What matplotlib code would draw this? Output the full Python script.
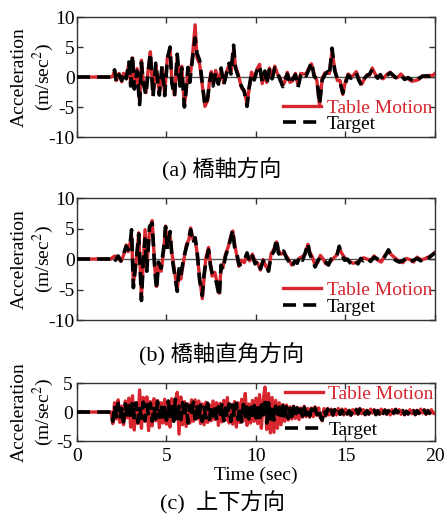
import numpy as np
import matplotlib
matplotlib.use('Agg')
import matplotlib.pyplot as plt

plt.rcParams['font.family'] = ['Liberation Serif', 'Noto Sans CJK JP']
plt.rcParams['mathtext.fontset'] = 'stix'
plt.rcParams['axes.unicode_minus'] = False

RED = '#d7262e'

# (a) bridge-axis direction
t_a = [0.0, 1.9, 2.0, 2.1, 2.2, 2.35, 2.5, 2.6, 2.75, 2.9,
       3.0, 3.1, 3.2, 3.35, 3.5, 3.6, 3.7, 3.85, 4.0, 4.1,
       4.25, 4.4, 4.5, 4.6, 4.75, 4.9, 5.05, 5.2, 5.3, 5.45,
       5.6, 5.75, 5.85, 6.0, 6.1, 6.2, 6.3, 6.45, 6.6, 6.7,
       6.85, 7.0, 7.15, 7.3, 7.4, 7.5, 7.6, 7.75, 7.9, 8.05,
       8.2, 8.35, 8.5, 8.6, 8.75, 8.85, 9.0, 9.1, 9.2, 9.35,
       9.5, 9.6, 9.75, 9.9, 10.05, 10.2, 10.35, 10.5, 10.6, 10.75,
       10.9, 11.05, 11.2, 11.35, 11.5, 11.6, 11.75, 11.9, 12.05, 12.2,
       12.35, 12.5, 12.65, 12.8, 12.95, 13.1, 13.25, 13.4, 13.55, 13.7,
       13.85, 14.0, 14.1, 14.25, 14.4, 14.55, 14.7, 14.85, 15.0, 15.15,
       15.3, 15.45, 15.6, 15.75, 15.9, 16.05, 16.2, 16.35, 16.5, 16.65,
       16.8, 16.95, 17.1, 17.3, 17.5, 17.7, 17.9, 18.1, 18.3, 18.5,
       18.7, 18.9, 19.1, 19.3, 19.5, 19.7, 19.85, 20.0]
target_a = [0.0, 0.0, 0.3, 1.2, -0.8, 0.4, -0.6, 0.8, -0.3, 2.5,
            -1.5, 3.7, -2.0, 1.0, -4.6, 2.4, -1.0, -3.0, 1.5, 4.0,
            -3.3, 2.3, -0.5, -3.0, 1.8, -3.1, 3.0, 5.0, -1.0, -3.2,
            3.8, -1.5, 1.5, -5.0, -2.0, 1.6, -0.9, 3.0, 6.5, 4.0,
            2.8, -1.0, -4.8, -3.5, -1.0, 0.5, -1.5, 0.8, -1.2, 1.5,
            -1.3, 0.5, 2.3, 0.5, 5.3, 1.5, 0.2, -1.0, -1.6, -2.5,
            -4.9, -2.0, 0.5, -0.5, 1.0, 1.9, -0.8, 1.0, -1.2, 1.2,
            -0.3, 1.5, 0.8, -0.5, -1.6, -0.6, 0.5, -1.2, -0.3, 0.4,
            -1.7, 0.3, 0.8, 0.2, 1.2, 2.5, 0.1, -0.3, -4.5, -0.5,
            0.4, 0.9, 0.3, 4.8, 1.0, -0.3, -0.9, -2.7, -1.0, 0.3,
            -0.2, 0.5, 0.7, -0.6, -1.4, -0.2, 0.2, 0.5, 1.3, 0.3,
            -0.2, 0.4, -0.5, 0.2, 0.7, 0.2, -0.3, 0.3, -0.4, -0.1,
            -0.5, -0.8, -0.2, 0.1, 0.2, 0.1, 0.3, 0.5]
table_a = [0.0, 0.0, 0.2, 1.0, -0.6, 0.6, -0.8, 0.6, -0.1, 2.2,
           -1.2, 3.2, -1.6, 1.4, -4.2, 2.8, -0.6, -2.6, 1.8, 4.2,
           -2.9, 2.0, -0.2, -2.6, 1.5, -2.7, 3.3, 4.6, -0.6, -3.0,
           3.4, -1.2, 1.8, -4.6, -2.4, 1.3, -0.5, 3.5, 8.7, 3.2,
           2.2, -1.4, -4.9, -3.9, -0.6, 0.9, -1.1, 1.1, -0.9, 1.2,
           -1.0, 0.8, 2.0, 0.9, 4.6, 1.9, 0.5, -0.7, -1.9, -2.2,
           -4.5, -2.4, 0.8, -0.2, 1.3, 2.1, -1.1, 0.7, -0.9, 1.5,
           0.0, 1.8, 0.5, -0.2, -1.3, -0.9, 0.8, -0.9, -0.6, 0.6,
           -1.4, 0.6, 0.5, 0.5, 1.5, 2.2, 0.4, -0.6, -4.7, -0.2,
           0.7, 0.6, 0.6, 4.3, 1.3, -0.6, -0.6, -2.9, -0.7, 0.5,
           0.1, 0.3, 0.9, -0.3, -1.2, -0.4, 0.4, 0.3, 1.5, 0.5,
           0.0, 0.2, -0.3, 0.4, 0.8, 0.0, -0.1, 0.5, -0.2, -0.3,
           -0.7, -0.6, -0.4, 0.2, 0.0, 0.3, 0.2, 0.6]

# (b) perpendicular to bridge axis
t_b = [0.0, 1.9, 2.0, 2.15, 2.3, 2.45, 2.6, 2.75, 2.85, 2.95,
       3.05, 3.15, 3.25, 3.35, 3.45, 3.6, 3.7, 3.8, 3.9, 4.05,
       4.2, 4.35, 4.45, 4.55, 4.7, 4.85, 4.95, 5.05, 5.2, 5.3,
       5.45, 5.6, 5.7, 5.8, 5.95, 6.1, 6.25, 6.35, 6.5, 6.6,
       6.7, 6.85, 7.0, 7.1, 7.2, 7.35, 7.45, 7.55, 7.7, 7.8,
       7.95, 8.05, 8.15, 8.3, 8.45, 8.6, 8.7, 8.8, 8.9, 9.05,
       9.2, 9.35, 9.5, 9.65, 9.8, 9.95, 10.1, 10.25, 10.4, 10.55,
       10.7, 10.85, 11.0, 11.15, 11.25, 11.4, 11.55, 11.7, 11.85, 12.0,
       12.15, 12.3, 12.45, 12.6, 12.75, 12.9, 13.0, 13.15, 13.3, 13.45,
       13.6, 13.75, 13.9, 14.05, 14.2, 14.35, 14.5, 14.65, 14.8, 14.95,
       15.1, 15.25, 15.4, 15.55, 15.7, 15.85, 16.0, 16.2, 16.4, 16.6,
       16.8, 17.0, 17.2, 17.4, 17.6, 17.8, 18.0, 18.2, 18.4, 18.6,
       18.8, 19.0, 19.2, 19.4, 19.6, 19.8, 20.0]
target_b = [0.0, 0.0, 0.4, -0.2, 0.5, -0.3, 0.8, 2.1, 1.5, 2.0,
            4.8, -4.7, -1.5, 1.0, 4.1, -6.8, -0.5, 3.3, -2.0, 5.3,
            5.9, -2.0, -5.0, -0.5, -1.5, 2.0, 5.3, 1.6, 4.5, 0.5,
            -2.5, -5.3, -1.6, -2.7, 0.0, 1.8, 3.4, 4.8, 2.6, 3.5,
            1.6, -3.5, -6.0, -2.5, -0.5, 1.5, -1.0, -2.3, -3.0, -4.0,
            -6.2, -1.0, -1.8, 0.5, 1.8, 3.5, 4.8, 2.0, 1.4, -1.0,
            -0.8, -0.2, 1.0, -0.5, 0.5, -0.8, -0.2, -1.6, -0.3, -0.8,
            -2.0, 0.6, 1.2, 3.3, 1.0, 0.4, 1.3, 0.2, -0.5, -1.3,
            -0.4, -0.7, 0.5, -0.2, 1.0, 2.6, 0.8, -0.1, -1.3, -0.3,
            0.3, -0.2, -0.5, -1.0, 0.0, 0.4, 0.3, 2.1, 0.6, -0.2,
            0.0, -0.6, -1.0, -0.4, -0.8, 0.1, -0.3, 0.2, -0.4, 0.3,
            0.0, -0.3, 0.4, 1.5, 0.3, -0.2, -0.5, -0.3, 0.2, -0.4,
            -0.2, 0.1, -0.3, 0.2, 0.0, 0.6, 1.0]
table_b = [0.0, 0.0, 0.3, 0.5, 0.2, -0.4, 0.6, 2.3, 1.2, 2.4,
           3.8, -3.9, -2.0, 0.8, 4.3, -6.2, -1.0, 4.8, -1.2, 4.6,
           6.3, -1.5, -4.5, -1.0, -2.0, 1.5, 5.4, 2.0, 3.8, 1.0,
           -2.0, -5.0, -2.3, -3.3, -0.5, 2.2, 3.2, 5.1, 3.0, 3.2,
           1.2, -3.0, -6.5, -3.2, 0.2, 1.9, -0.6, -2.8, -2.2, -3.5,
           -5.6, -1.3, -1.4, 0.8, 2.0, 3.8, 4.6, 2.6, 1.0, -1.2,
           -0.2, -0.6, 0.7, -0.3, 0.8, -0.4, -0.7, -1.8, -0.1, -1.2,
           -1.7, 0.9, 1.6, 2.8, 1.4, 0.8, 1.0, 0.5, -0.2, -1.0,
           -0.6, -0.3, 0.2, 0.4, 0.8, 2.4, 1.2, 0.3, -1.0, -0.6,
           0.6, 0.0, -0.8, -0.7, -0.3, 0.2, 0.6, 1.8, 0.9, 0.2,
           -0.2, -0.4, -0.7, -0.6, -0.5, -0.2, 0.2, 0.0, -0.2, 0.5,
           -0.2, -0.5, 0.6, 1.2, 0.6, 0.1, -0.4, -0.6, 0.1, -0.1,
           -0.5, 0.3, -0.1, 0.0, 0.3, 0.5, 1.1]

# (c) vertical, sampled every 0.1 s
t_c = np.linspace(0, 20, 201)
target_c = [0.0, 0.0, 0.0, 0.0, 0.0, 0.0, 0.0, 0.0, 0.0, 0.0,
            0.0, 0.0, 0.0, 0.0, 0.0, 0.0, 0.0, 0.0, 0.0, 0.0,
            -1.6, 1.2, -0.8, 1.5, -1.2, 0.6, -1.7, 1.4, -0.5, 1.1,
            -1.3, 1.8, -1.0, 1.6, -1.8, 0.9, -1.1, 1.7, -1.5, 1.3,
            -0.7, 1.5, -1.6, 1.0, -1.2, 1.8, -0.9, 1.4, -1.7, 0.8,
            -1.4, 1.9, -1.1, 1.3, -1.6, 2.2, -1.8, 1.0, -1.3, 1.6,
            -1.0, 1.4, -1.9, 1.1, -0.8, 1.7, -1.2, 0.9, -1.5, 1.2,
            -1.6, 0.8, -1.0, 1.5, -1.3, 1.1, -0.7, 1.3, -1.4, 0.9,
            -1.1, 1.6, -1.5, 0.7, -1.0, 1.4, -1.6, 1.2, -0.9, 1.5,
            -1.3, 1.0, -1.7, 1.3, -0.8, 1.6, -1.2, 0.8, -1.4, 1.1,
            -1.0, 1.5, -1.8, 1.9, -1.3, 2.4, -1.9, 1.6, -1.5, 1.2,
            -1.4, 1.0, -1.2, 0.8, -1.0, 1.1, -0.7, 0.9, -1.1, 0.6,
            -0.8, 0.9, -0.6, 0.7, -0.9, 0.5, -0.7, 0.8, -0.5, 0.6,
            -0.7, 0.5, -0.6, 0.7, -0.4, 0.6, -0.8, -1.4, 0.4, -0.5,
            0.5, -0.4, 0.3, -0.5, 0.4, -0.2, 0.5, -0.4, 0.3, -0.3,
            0.4, -0.3, 0.2, -0.5, 0.3, -0.2, 0.4, -0.3, 0.5, -0.2,
            0.3, -0.4, 0.2, -0.3, 0.4, -0.1, 0.3, -0.4, 0.2, -0.3,
            0.4, -0.2, 0.3, -0.3, 0.2, -0.4, 0.3, -0.2, 0.4, -0.1,
            0.3, -0.3, 0.2, -0.4, 0.1, -0.3, 0.3, -0.2, 0.2, -0.4,
            0.2, -0.2, 0.4, -0.1, 0.3, -0.3, 0.2, -0.2, 0.3, -0.1,
            -0.2]
table_c = [0.0, 0.0, 0.0, 0.1, 0.0, 0.0, 0.0, 0.0, 0.0, 0.0,
           0.0, 0.0, 0.0, 0.0, 0.0, 0.0, 0.0, 0.0, 0.0, 0.0,
           -2.0, 1.6, -1.2, 2.1, -1.8, 1.0, -2.2, 1.9, -1.0, 2.4,
           -2.6, 2.8, -3.1, 1.2, -2.0, 3.8, -2.8, 2.5, -1.6, 2.6,
           -3.2, 1.8, -2.4, 2.3, -1.5, 2.0, -2.7, 1.6, -1.9, 2.2,
           -2.1, 1.5, -2.6, 2.3, -1.4, 2.0, 3.4, -3.8, 2.6, -2.2,
           1.8, -2.5, 1.4, -1.9, 2.1, -1.6, 2.1, -1.2, 1.9, -2.0,
           1.4, -2.2, 1.7, -1.8, 1.2, -1.5, 1.9, -1.3, 1.6, -2.3,
           1.5, -1.7, 2.0, -1.4, 2.5, -1.9, 1.3, -2.1, 1.8, -2.6,
           1.6, -1.8, 2.2, -1.5, 3.2, -2.3, 1.4, -1.9, 2.0, -1.6,
           2.4, -2.0, 3.0, -2.8, 1.8, 4.3, -3.0, 3.2, -3.6, 2.5,
           -3.5, 2.0, -2.8, 1.6, -2.2, 1.3, -1.6, 1.2, -1.4, 0.9,
           -1.2, 1.0, -1.1, 0.8, -1.3, 0.7, -0.9, 1.0, -0.8, 0.6,
           -0.9, 0.7, -0.8, 0.9, -0.6, 0.7, -1.0, -1.5, 0.6, -0.7,
           0.6, -0.5, 0.5, -0.6, 0.4, -0.5, 0.6, -0.4, 0.5, -0.5,
           0.5, -0.4, 0.3, -0.6, 0.4, -0.3, 0.5, -0.4, 0.6, -0.3,
           0.4, -0.5, 0.3, -0.4, 0.5, -0.2, 0.4, -0.5, 0.3, -0.4,
           0.5, -0.3, 0.4, -0.4, 0.3, -0.5, 0.4, -0.3, 0.5, -0.2,
           0.4, -0.4, 0.3, -0.5, 0.2, -0.4, 0.4, -0.3, 0.3, -0.5,
           0.3, -0.3, 0.5, -0.2, 0.4, -0.4, 0.3, -0.3, 0.4, -0.2,
           -0.3]

captions = ['(a) 橋軸方向', '(b) 橋軸直角方向', '(c)  上下方向']


def draw_panel(ax, t, table, target, ylim, yticks, legend_anchor, spacing):
    ax.axhline(0, color='#555555', lw=1.0, zorder=1)
    ax.plot(t, table, color=RED, lw=2.4, label='Table Motion', zorder=2)
    ax.plot(t, target, color='black', lw=2.6, dashes=(3.6, 2.0),
            label='Target', zorder=3)
    ax.set_xlim(0, 20)
    ax.set_ylim(*ylim)
    ax.set_xticks([0, 5, 10, 15, 20])
    ax.set_yticks(yticks)
    ax.tick_params(direction='in', length=4.5, width=1.0, top=True,
                   right=True, labelsize=14, pad=1.5, color='#333333')
    for s in ax.spines.values():
        s.set_linewidth(1.0)
        s.set_color('#333333')
    ax.set_ylabel('Acceleration\n(m/sec$^2$)', fontsize=14, linespacing=1.2)
    ax.yaxis.set_label_coords(-0.058, 0.5)
    ax.legend(loc='center left', bbox_to_anchor=legend_anchor, frameon=False,
              fontsize=14, handlelength=1.95, handletextpad=0.3,
              labelspacing=spacing, borderpad=0, borderaxespad=0,
              labelcolor='linecolor')


fig = plt.figure(figsize=(4.44, 5.2), dpi=100)
ax_a = fig.add_axes([0.1734, 0.7365, 0.8063, 0.2308])
ax_b = fig.add_axes([0.1734, 0.3846, 0.8063, 0.2346])
ax_c = fig.add_axes([0.1734, 0.1519, 0.8063, 0.1115])

draw_panel(ax_a, t_a, table_a, target_a, (-10, 10), [-10, -5, 0, 5, 10],
           (0.575, 0.175), -0.05)
draw_panel(ax_b, t_b, table_b, target_b, (-10, 10), [-10, -5, 0, 5, 10],
           (0.575, 0.176), -0.05)
draw_panel(ax_c, t_c, table_c, target_c, (-5, 5), [-5, 0, 5],
           (0.58, 0.5), 0.95)

ax_a.tick_params(labelbottom=False)
ax_b.tick_params(labelbottom=False)
ax_c.tick_params(axis='x', pad=5)
ax_c.tick_params(axis='y', pad=3)
ax_c.set_xlabel('Time (sec)', fontsize=14, labelpad=1)

fig.text(0.5, 1 - 170 / 520, captions[0], ha='center', va='center', fontsize=16)
fig.text(0.5, 1 - 355 / 520, captions[1], ha='center', va='center', fontsize=16)
fig.text(0.5, 1 - 503 / 520, captions[2], ha='center', va='center', fontsize=16)

fig.savefig('out.png', dpi=100)
